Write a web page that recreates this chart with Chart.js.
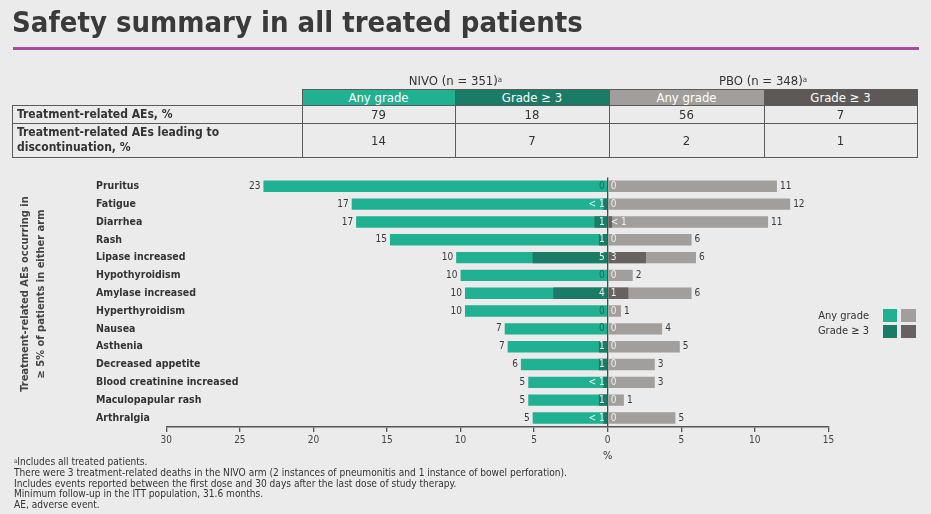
<!DOCTYPE html>
<html><head><meta charset="utf-8">
<script src="https://cdn.jsdelivr.net/npm/chart.js@4/dist/chart.umd.min.js"></script>
<style>
html,body{margin:0;padding:0;background:#ebebeb;}
body{width:931px;height:514px;position:relative;overflow:hidden;font-family:'DejaVu Sans Condensed','DejaVu Sans',sans-serif;color:#333;}
#chart{position:absolute;left:0;top:0;}
#title{position:absolute;left:12px;top:5px;font-size:29px;font-weight:bold;color:#3a3a3a;white-space:nowrap;letter-spacing:0px;}
#rule{position:absolute;left:13px;top:47px;width:906px;height:3px;background:#a64ca3;}
.abs{position:absolute;box-sizing:border-box;}
.c{display:flex;align-items:center;justify-content:center;text-align:center;}
.hl{position:absolute;height:1px;background:#5a5a5a;}
.vl{position:absolute;width:1px;background:#5a5a5a;}
#foot{position:absolute;left:14px;top:457px;font-size:10.1px;line-height:10.8px;color:#333;white-space:nowrap;}
sup{font-size:60%;vertical-align:top;position:relative;top:-1px;}
</style></head><body>
<canvas id="chart" width="931" height="514"></canvas>
<div id="title">Safety summary in all treated patients</div>
<div id="rule"></div>
<div id="table"></div>
<div id="foot"></div>
<script>
// ---- Data ----
const categories = ["Pruritus","Fatigue","Diarrhea","Rash","Lipase increased","Hypothyroidism","Amylase increased","Hyperthyroidism","Nausea","Asthenia","Decreased appetite","Blood creatinine increased","Maculopapular rash","Arthralgia"];
const nivoAny = [23.4,17.4,17.1,14.8,10.3,10.0,9.7,9.7,7.0,6.8,5.9,5.4,5.4,5.1];
const nivoG3  = [0,0.3,0.9,0.6,5.1,0,3.7,0,0,0.6,0.6,0.3,0.6,0.3];
const pboAny  = [11.5,12.4,10.9,5.7,6.0,1.7,5.7,0.9,3.7,4.9,3.2,3.2,1.1,4.6];
const pboG3   = [0,0,0.3,0,2.6,0,1.4,0,0,0,0,0,0,0];
const nivoAnyLabels = ["23","17","17","15","10","10","10","10","7","7","6","5","5","5"];
const nivoG3Labels  = ["0","< 1","1","1","5","0","4","0","0","1","1","< 1","1","< 1"];
const pboAnyLabels  = ["11","12","11","6","6","2","6","1","4","5","3","3","1","5"];
const pboG3Labels   = ["0","0","< 1","0","3","0","1","0","0","0","0","0","0","0"];
const xTicks = [-30,-25,-20,-15,-10,-5,0,5,10,15];

const armHeaders = ["NIVO (n = 351)", "PBO (n = 348)"];
const gradeHeaders = ["Any grade","Grade \u2265 3","Any grade","Grade \u2265 3"];
const tableRowLabels = ["Treatment-related AEs, %","Treatment-related AEs leading to<br>discontinuation, %"];
const tblNivoAny = [79,14];
const tblNivoG3  = [18,7];
const tblPboAny  = [56,2];
const tblPboG3   = [7,1];

const footnotes = ["<sup>a</sup>Includes all treated patients.",
 "There were 3 treatment-related deaths in the NIVO arm (2 instances of pneumonitis and 1 instance of bowel perforation).",
 "Includes events reported between the first dose and 30 days after the last dose of study therapy.",
 "Minimum follow-up in the ITT population, 31.6 months.",
 "AE, adverse event."];

const C_TEAL='#20b192', C_DTEAL='#1a7b67', C_GREY='#a29e9b', C_DGREY='#67615f';
const FONT="'DejaVu Sans Condensed','DejaVu Sans',sans-serif";

// ---- Table ----
(function(){
  const t=document.getElementById('table');
  const xs=[12,302,455,609,764,917];
  const hdrColors=[C_TEAL,C_DTEAL,C_GREY,'#5e5957'];
  let h='';
  h+=`<div class="abs c" style="left:302px;top:72px;width:307px;height:17px;font-size:13px;">${armHeaders[0]}<sup>a</sup></div>`;
  h+=`<div class="abs c" style="left:609px;top:72px;width:308px;height:17px;font-size:13px;">${armHeaders[1]}<sup>a</sup></div>`;
  for(let i=0;i<4;i++){
    h+=`<div class="abs c" style="left:${xs[i+1]}px;top:89px;width:${xs[i+2]-xs[i+1]}px;height:16px;background:${hdrColors[i]};color:#fff;font-size:13px;">${gradeHeaders[i]}</div>`;
  }
  const rowsY=[[105,123],[123,157]];
  const vals=[tblNivoAny,tblNivoG3,tblPboAny,tblPboG3];
  rowsY.forEach((r,ri)=>{
    h+=`<div class="abs" style="left:17px;top:${r[0]}px;width:280px;height:${r[1]-r[0]}px;display:flex;align-items:center;font-weight:bold;font-size:12px;line-height:15px;color:#333;">${tableRowLabels[ri]}</div>`;
    for(let i=0;i<4;i++){
      h+=`<div class="abs c" style="left:${xs[i+1]}px;top:${r[0]}px;width:${xs[i+2]-xs[i+1]}px;height:${r[1]-r[0]}px;font-size:13px;color:#333;">${vals[i][ri]}</div>`;
    }
  });
  h+=`<div class="hl" style="left:302px;top:89px;width:615px;"></div>`;
  [105,123,157].forEach(y=>{h+=`<div class="hl" style="left:12px;top:${y}px;width:906px;"></div>`;});
  h+=`<div class="vl" style="left:12px;top:105px;height:53px;"></div>`;
  xs.slice(1).forEach(x=>{h+=`<div class="vl" style="left:${x}px;top:89px;height:69px;"></div>`;});
  t.innerHTML=h;
  document.getElementById('foot').innerHTML=footnotes.join('<br>');
})();

// ---- Chart ----
const annot={
  id:'annot',
  afterDatasetsDraw(chart){
    const ctx=chart.ctx;
    const mNA=chart.getDatasetMeta(2), mPA=chart.getDatasetMeta(3);
    const x0=chart.scales.x.getPixelForValue(0);
    ctx.save();
    ctx.font='10px '+FONT;
    ctx.textBaseline='middle';
    for(let i=0;i<categories.length;i++){
      const y=mNA.data[i].y;
      ctx.textAlign='right';
      ctx.fillStyle='#3a3a3a';
      ctx.fillText(nivoAnyLabels[i], mNA.data[i].x-3, y);
      ctx.fillStyle= nivoG3Labels[i]==='0' ? '#176a59' : '#e8f5f1';
      ctx.fillText(nivoG3Labels[i], x0-3, y);
      ctx.textAlign='left';
      ctx.fillStyle='#f1efed';
      ctx.fillText(pboG3Labels[i], x0+3, y);
      ctx.fillStyle='#3a3a3a';
      ctx.fillText(pboAnyLabels[i], mPA.data[i].x+3, y);
    }
    ctx.textAlign='center';
    ctx.fillStyle='#333';
    ctx.font='11px '+FONT;
    ctx.fillText('%', x0, 456);
    ctx.save();
    ctx.translate(33,294);
    ctx.rotate(-Math.PI/2);
    ctx.font='bold 11px '+FONT;
    ctx.fillStyle='#444';
    ctx.textAlign='center';
    ctx.fillText('Treatment-related AEs occurring in',0,-8);
    ctx.fillText('\u2265 5% of patients in either arm',0,8);
    ctx.restore();
    ctx.font='11px '+FONT;
    ctx.fillStyle='#333';
    ctx.textAlign='right';
    ctx.fillText('Any grade',869,316);
    ctx.fillText('Grade \u2265 3',869,331.5);
    ctx.fillStyle=C_TEAL; ctx.fillRect(883,309,14,13);
    ctx.fillStyle=C_GREY; ctx.fillRect(901,309,15,13);
    ctx.fillStyle=C_DTEAL; ctx.fillRect(883,325,14,13);
    ctx.fillStyle=C_DGREY; ctx.fillRect(901,325,15,13);
    ctx.restore();
  }
};

const common={grouped:false,barPercentage:0.64,categoryPercentage:1,borderWidth:0};
new Chart(document.getElementById('chart'),{
  type:'bar',
  data:{
    labels:categories,
    datasets:[
      Object.assign({label:'NIVO Grade ≥ 3',data:nivoG3.map(v=>-v),backgroundColor:C_DTEAL,order:0},common),
      Object.assign({label:'PBO Grade ≥ 3',data:pboG3,backgroundColor:C_DGREY,order:0},common),
      Object.assign({label:'NIVO Any grade',data:nivoAny.map(v=>-v),backgroundColor:C_TEAL,order:1},common),
      Object.assign({label:'PBO Any grade',data:pboAny,backgroundColor:C_GREY,order:1},common)
    ]
  },
  options:{
    indexAxis:'y',
    responsive:false,
    animation:false,
    layout:{padding:{left:96,right:102.6,top:177.4,bottom:57.1}},
    plugins:{legend:{display:false},tooltip:{enabled:false}},
    scales:{
      x:{
        min:-30,max:15,
        afterBuildTicks:s=>{s.ticks=xTicks.map(v=>({value:v}));},
        afterFit:s=>{s.height=30;},
        ticks:{callback:v=>String(Math.abs(v)),font:{size:10,family:FONT},color:'#444',padding:3,maxRotation:0},
        grid:{color:c=>(c.tick&&c.tick.value===0)?'#4a4a4a':'rgba(0,0,0,0)',lineWidth:1.3,tickColor:'#555',tickLength:5,drawTicks:true},
        border:{display:true,color:'#555',width:1.5}
      },
      y:{
        afterFit:s=>{s.width=70.3;},
        ticks:{mirror:true,crossAlign:'near',padding:-70.3,autoSkip:false,font:{size:10.5,weight:'bold',family:FONT},color:'#333'},
        grid:{display:false,drawTicks:false},
        border:{display:false}
      }
    }
  },
  plugins:[annot]
});
</script>
</body></html>
